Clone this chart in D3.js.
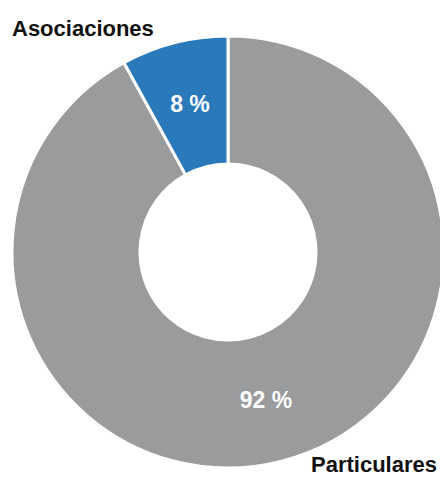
<!DOCTYPE html>
<html>
<head>
<meta charset="utf-8">
<script src="https://cdn.jsdelivr.net/npm/d3@7"></script>
<style>
  html, body { margin: 0; padding: 0; background: #fff; }
  svg { display: block; }
  text { font-family: "Liberation Sans", Arial, Helvetica, sans-serif; font-weight: bold; }
</style>
</head>
<body>
<svg id="chart" width="440" height="486"></svg>
<script>
// Share of entities by type (percent)
const categories = ["Particulares", "Asociaciones"];
const values = [92, 8];
const valueLabels = ["92 %", "8 %"];
const colors = ["#999b9c", "#2a79bb"];

const width = 440, height = 486;
const cx = 228, cy = 252;
const outerR = 216, innerR = 88, labelR = 153;

const svg = d3.select("#chart");
const g = svg.append("g").attr("transform", `translate(${cx},${cy})`);

const pie = d3.pie().sort(null).value(d => d.value);
const arcs = pie(categories.map((c, i) => ({ name: c, value: values[i], label: valueLabels[i], color: colors[i] })));

const arc = d3.arc().innerRadius(innerR).outerRadius(outerR);
const labelArc = d3.arc().innerRadius(labelR).outerRadius(labelR);

g.selectAll("path.slice")
  .data(arcs)
  .join("path")
  .attr("class", "slice")
  .attr("d", arc)
  .attr("fill", d => d.data.color)
  .attr("stroke", "#fff")
  .attr("stroke-width", 3)
  .attr("stroke-linejoin", "miter");

// Percent labels inside each slice
g.selectAll("text.value")
  .data(arcs)
  .join("text")
  .attr("class", "value")
  .attr("transform", d => `translate(${labelArc.centroid(d)})`)
  .attr("text-anchor", "middle")
  .attr("dy", "0.35em")
  .attr("fill", "#fff")
  .attr("font-size", 23)
  .text(d => d.data.label);

// Category names outside the ring
svg.append("text")
  .attr("x", 12)
  .attr("y", 36)
  .attr("font-size", 22)
  .attr("fill", "#111")
  .text(categories[1]);

svg.append("text")
  .attr("x", 437)
  .attr("y", 472)
  .attr("text-anchor", "end")
  .attr("font-size", 22)
  .attr("fill", "#111")
  .text(categories[0]);
</script>
</body>
</html>
